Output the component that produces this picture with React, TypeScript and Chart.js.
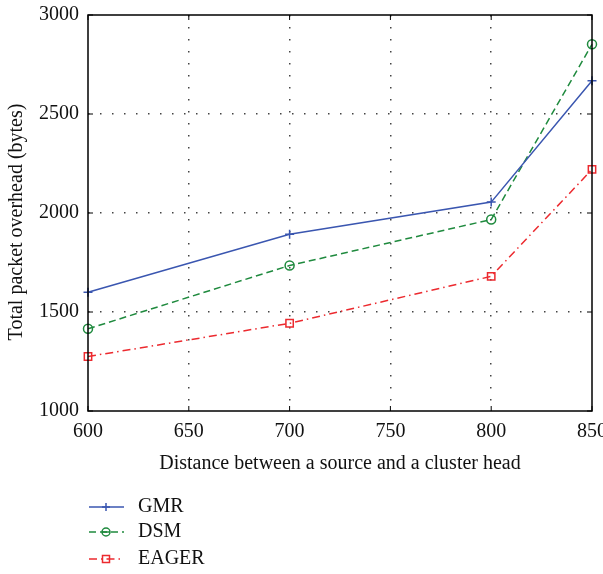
import React, { useEffect, useRef } from "react";
import { Chart, registerables } from "chart.js";

Chart.register(...registerables);

const distances = [600, 700, 800, 850];
const gmr = [1600, 1893, 2055, 2668];
const dsm = [1415, 1735, 1967, 2852];
const eager = [1275, 1443, 1680, 2220];

const seriesNames = ["GMR", "DSM", "EAGER"];
const seriesColors = ["#3a56b0", "#1f8a3e", "#ec2a2f"];
const seriesDash = [[], [7, 4], [8, 4, 1.5, 4]];
const seriesPoint = ["cross", "circle", "rect"];
const seriesRadius = [4.5, 4.5, 5.2];

const FONT = "'Liberation Serif', 'DejaVu Serif', serif";

function drawMarker(ctx: CanvasRenderingContext2D, style: string, x: number, y: number, color: string) {
  ctx.save();
  ctx.setLineDash([]);
  ctx.strokeStyle = color;
  ctx.lineWidth = 1.5;
  ctx.beginPath();
  if (style === "cross") {
    ctx.moveTo(x - 4, y); ctx.lineTo(x + 4, y);
    ctx.moveTo(x, y - 4); ctx.lineTo(x, y + 4);
  } else if (style === "circle") {
    ctx.arc(x, y, 4, 0, Math.PI * 2);
    ctx.moveTo(x - 4, y); ctx.lineTo(x + 4, y);
  } else {
    ctx.rect(x - 3.5, y - 3.5, 7, 7);
  }
  ctx.stroke();
  ctx.restore();
}

const framePlugin = {
  id: "frame",
  afterDraw(chart: any) {
    const { ctx, chartArea } = chart;
    const { left, right, top, bottom } = chartArea;
    ctx.save();
    ctx.strokeStyle = "#000";
    ctx.lineWidth = 1.5;
    ctx.setLineDash([]);
    ctx.strokeRect(left, top, right - left, bottom - top);
    const xs = chart.scales.x;
    const ys = chart.scales.y;
    ctx.lineWidth = 1;
    ctx.beginPath();
    for (const t of xs.ticks) {
      const px = xs.getPixelForValue(t.value);
      ctx.moveTo(px, bottom); ctx.lineTo(px, bottom - 5);
      ctx.moveTo(px, top); ctx.lineTo(px, top + 5);
    }
    for (const t of ys.ticks) {
      const py = ys.getPixelForValue(t.value);
      ctx.moveTo(left, py); ctx.lineTo(left + 5, py);
      ctx.moveTo(right, py); ctx.lineTo(right - 5, py);
    }
    ctx.stroke();

    // y axis title
    ctx.save();
    ctx.translate(17, 222);
    ctx.rotate(-Math.PI / 2);
    ctx.fillStyle = "#111";
    ctx.font = `20px ${FONT}`;
    ctx.textAlign = "center";
    ctx.textBaseline = "middle";
    ctx.fillText("Total packet overhead (bytes)", 0, 0);
    ctx.restore();

    // legend
    const rows = [507, 532, 559];
    seriesNames.forEach((name, i) => {
      const y = rows[i];
      ctx.save();
      ctx.strokeStyle = seriesColors[i];
      ctx.lineWidth = 1.5;
      ctx.setLineDash(seriesDash[i]);
      ctx.beginPath();
      ctx.moveTo(89, y); ctx.lineTo(124, y);
      ctx.stroke();
      ctx.restore();
      drawMarker(ctx, seriesPoint[i], 106, y, seriesColors[i]);
      ctx.fillStyle = "#111";
      ctx.font = `20px ${FONT}`;
      ctx.textBaseline = "middle";
      ctx.textAlign = "left";
      ctx.fillText(name, 138, y);
    });
    ctx.restore();
  },
};

export default function App() {
  const ref = useRef<HTMLCanvasElement | null>(null);
  useEffect(() => {
    if (!ref.current) return;
    const datas = [gmr, dsm, eager];
    const chart = new Chart(ref.current, {
      type: "line",
      data: {
        datasets: seriesNames.map((name, i) => ({
          label: name,
          data: distances.map((d, j) => ({ x: d, y: datas[i][j] })),
          borderColor: seriesColors[i],
          backgroundColor: "transparent",
          borderWidth: 1.5,
          borderDash: seriesDash[i],
          pointStyle: seriesPoint[i] as any,
          pointRadius: seriesRadius[i],
          pointBorderWidth: 1.5,
          pointBorderColor: seriesColors[i],
          pointBackgroundColor: "transparent",
          tension: 0,
          clip: false as any,
        })),
      },
      options: {
        animation: false,
        responsive: false,
        maintainAspectRatio: false,
        layout: { padding: { left: 0, right: 11, top: 15, bottom: 94 } },
        plugins: { legend: { display: false }, tooltip: { enabled: false } },
        scales: {
          x: {
            type: "linear",
            min: 600,
            max: 850,
            ticks: { stepSize: 50, color: "#111", font: { family: FONT, size: 20 }, padding: 9, maxRotation: 0, callback: (v: any) => String(v) },
            grid: {
              color: (c: any) => (c.tick && (c.tick.value === 600 || c.tick.value === 850) ? "transparent" : "#444"),
              lineWidth: 1.5,
              drawTicks: false,
            } as any,
            border: { display: false, dash: [1.5, 10.5] } as any,
            title: { display: true, text: "Distance between a source and a cluster head", color: "#111", font: { family: FONT, size: 20 }, padding: { top: 4, bottom: 4 } },
            afterFit: (s: any) => { s.height = 69; s.paddingLeft = 0; s.paddingRight = 0; },
          },
          y: {
            type: "linear",
            min: 1000,
            max: 3000,
            ticks: { stepSize: 500, color: "#111", font: { family: FONT, size: 20 }, padding: 9, callback: (v: any) => String(v) },
            grid: {
              color: (c: any) => (c.tick && (c.tick.value === 1000 || c.tick.value === 3000) ? "transparent" : "#444"),
              lineWidth: 1.5,
              drawTicks: false,
            },
            border: { display: false, dash: [1.5, 10.5] } as any,
            title: { display: false },
            afterFit: (s: any) => { s.width = 88; s.paddingTop = 0; s.paddingBottom = 0; },
          },
        },
      },
      plugins: [framePlugin],
    });
    return () => chart.destroy();
  }, []);
  return (
    <div style={{ position: "absolute", left: 0, top: 0, width: 603, height: 574, background: "#fff" }}>
      <canvas ref={ref} width={603} height={574} style={{ width: 603, height: 574 }} />
    </div>
  );
}
